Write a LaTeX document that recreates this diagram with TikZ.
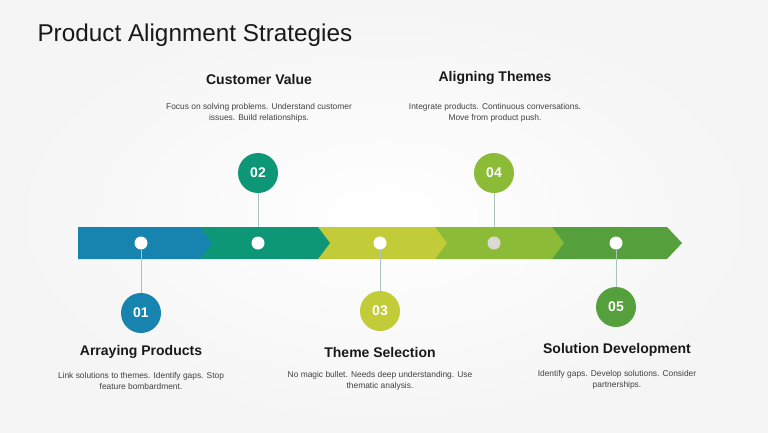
\documentclass[tikz,border=0pt]{standalone}
\usepackage{fontspec}
\setmainfont{Liberation Sans}
\usetikzlibrary{positioning}

\definecolor{cBlue}{HTML}{1784B0}
\definecolor{cTeal}{HTML}{0E9777}
\definecolor{cLime}{HTML}{C2CC38}
\definecolor{cLeaf}{HTML}{8CBB38}
\definecolor{cForest}{HTML}{55A03C}
\definecolor{cStem}{HTML}{A9C4BE}
\definecolor{cGreyDot}{HTML}{DCD8D4}

\tikzset{
    headline/.style={font=\fontsize{14}{16}\selectfont\bfseries, text=black!90},
    blurb/.style={font=\fontsize{8.4}{11}\selectfont, text=black!75, align=center},
    badge/.style={circle, minimum size=40pt, inner sep=0pt, text=white,
                  font=\fontsize{14}{16}\selectfont\bfseries},
    pin/.style={circle, fill=white, minimum size=13pt, inner sep=0pt},
    stem/.style={draw=cStem, line width=0.8pt}
}

\begin{document}
\begin{tikzpicture}[x=1pt, y=-1pt]

    % 1. Фон с мягкой радиальной заливкой
    \shade[inner color=white, outer color=black!4] (0,0) rectangle (768,432);
    \useasboundingbox (0,0) rectangle (768,432);

    % 2. Заголовок
    \node[anchor=west, font=\fontsize{24.3}{28}\selectfont, text=black!90] (title) at (34,35)
        {Product Alignment Strategies};

    % 3. Полоса из шевронов (справа налево, чтобы острия ложились сверху)
    \fill[cForest] (667,227) -- (682,243) -- (667,259) -- (550,259) -- (550,227) -- cycle;
    \fill[cLeaf]   (552,227) -- (564,243) -- (552,259) -- (433,259) -- (433,227) -- cycle;
    \fill[cLime]   (435,227) -- (447,243) -- (435,259) -- (316,259) -- (316,227) -- cycle;
    \fill[cTeal]   (318,227) -- (330,243) -- (318,259) -- (198,259) -- (198,227) -- cycle;
    \fill[cBlue]   (200,227) -- (212,243) -- (200,259) -- (78,259)  -- (78,227)  -- cycle;

    % 4. Точки на полосе
    \node[pin] (p1) at (141,243) {};
    \node[pin] (p2) at (258,243) {};
    \node[pin] (p3) at (380,243) {};
    \node[pin, fill=cGreyDot] (p4) at (494,243) {};
    \node[pin] (p5) at (616,243) {};

    % 5. Кружки с номерами
    \node[badge, fill=cBlue]   (b1) at (141,313) {01};
    \node[badge, fill=cTeal]   (b2) at (258,173) {02};
    \node[badge, fill=cLime]   (b3) at (380,311) {03};
    \node[badge, fill=cLeaf]   (b4) at (494,173) {04};
    \node[badge, fill=cForest] (b5) at (616,307) {05};

    % 6. Соединительные линии
    \draw[stem] (p1) -- (b1);
    \draw[stem] (b2) -- (258,227);
    \draw[stem] (p3) -- (b3);
    \draw[stem] (b4) -- (494,227);
    \draw[stem] (p5) -- (b5);

    % 7. Подписи сверху
    \node[headline] (h2) at (259,79) {Customer Value};
    \node[blurb, below=12pt of h2] (t2)
        {Focus on solving problems. Understand customer\\issues. Build relationships.};
    \node[headline] (h4) at (495,78) {Aligning Themes};
    \node[blurb, below=12pt of h4] (t4)
        {Integrate products. Continuous conversations.\\Move from product push.};

    % 8. Подписи снизу
    \node[headline] (h1) at (141,352) {Arraying Products};
    \node[blurb, below=7pt of h1] (t1)
        {Link solutions to themes. Identify gaps. Stop\\feature bombardment.};
    \node[headline] (h3) at (380,352) {Theme Selection};
    \node[blurb, below=7pt of h3] (t3)
        {No magic bullet. Needs deep understanding. Use\\thematic analysis.};
    \node[headline] (h5) at (617,350) {Solution Development};
    \node[blurb, below=7pt of h5] (t5)
        {Identify gaps. Develop solutions. Consider\\partnerships.};

\end{tikzpicture}
\end{document}
